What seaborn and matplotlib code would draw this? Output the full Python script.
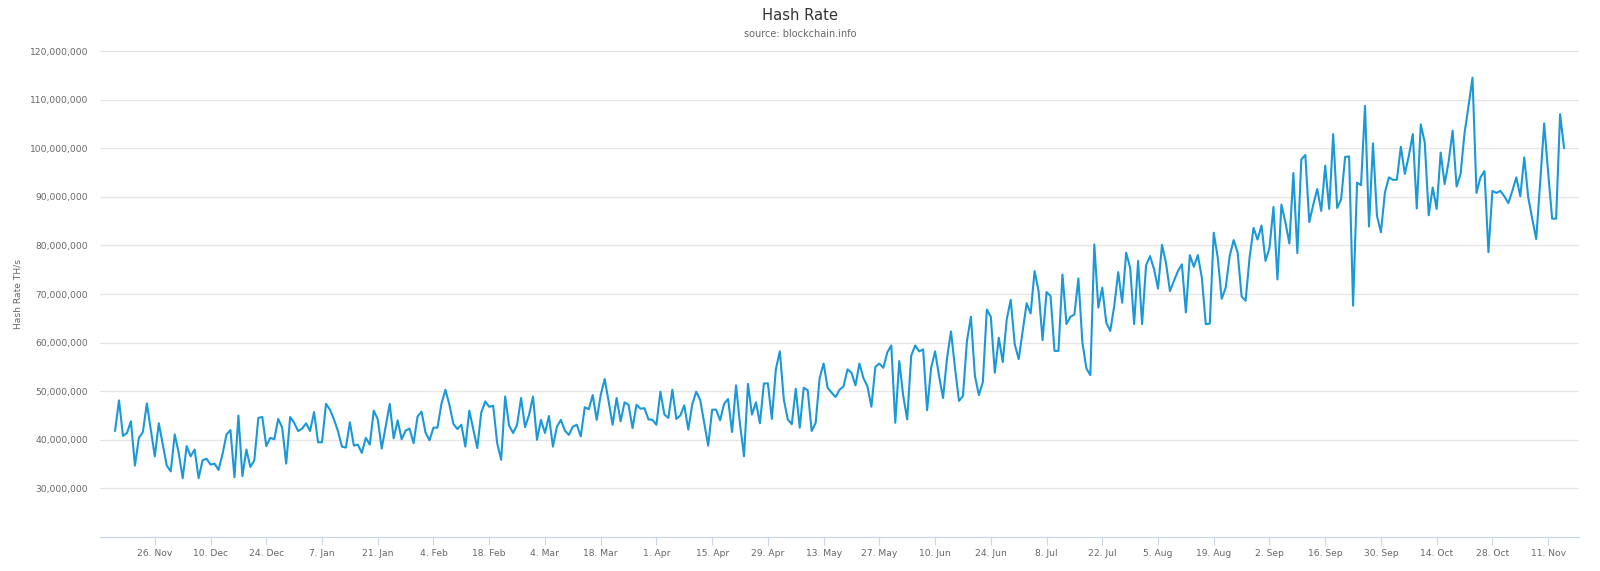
import matplotlib
matplotlib.use("Agg")
import matplotlib.pyplot as plt
import matplotlib.dates as mdates
import matplotlib.ticker as mticker
import seaborn as sns
import pandas as pd
import numpy as np

# ---- data (hash rate in millions of TH/s, one value per day) ----
start_date = "2017-11-16"
hash_rate_millions = [
    41.8, 48.1, 40.8, 41.4, 43.8, 34.7, 40.4, 41.6, 47.5, 42.1,
    36.6, 43.4, 39.0, 34.7, 33.5, 41.1, 37.3, 32.1, 38.7, 36.6,
    38.0, 32.1, 35.8, 36.1, 34.9, 35.1, 33.8, 37.0, 41.1, 42.0,
    32.3, 45.0, 32.5, 38.0, 34.4, 35.8, 44.5, 44.7, 38.7, 40.4,
    40.1, 44.3, 42.5, 35.1, 44.7, 43.5, 41.8, 42.3, 43.4, 41.8,
    45.7, 39.5, 39.5, 47.4, 46.2, 44.2, 41.8, 38.6, 38.4, 43.6,
    38.8, 39.0, 37.3, 40.4, 39.0, 46.0, 44.2, 38.2, 42.8, 47.4,
    40.3, 44.0, 40.1, 41.9, 42.3, 39.3, 44.8, 45.8, 41.5, 39.9,
    42.5, 42.5, 47.4, 50.3, 47.2, 43.3, 42.2, 43.1, 38.6, 46.0,
    42.1, 38.3, 45.6, 47.9, 46.8, 47.0, 39.3, 35.9, 48.9, 42.9,
    41.4, 43.1, 48.6, 42.6, 45.1, 48.9, 40.0, 44.1, 41.4, 44.9,
    38.6, 42.7, 44.1, 41.9, 41.0, 42.7, 43.1, 40.7, 46.7, 46.3,
    49.2, 44.1, 49.2, 52.5, 47.9, 43.1, 48.6, 43.8, 47.7, 47.2,
    42.4, 47.2, 46.4, 46.5, 44.2, 44.1, 43.1, 49.9, 45.2, 44.5,
    50.3, 44.3, 45.0, 47.1, 42.1, 47.3, 49.9, 48.2, 43.5, 38.8,
    46.2, 46.2, 44.0, 47.4, 48.4, 41.6, 51.2, 43.2, 36.6, 51.5,
    45.2, 47.7, 43.4, 51.6, 51.6, 44.3, 54.5, 58.2, 48.3, 44.2,
    43.2, 50.5, 42.5, 50.7, 50.2, 41.8, 43.5, 52.7, 55.7, 50.7,
    49.7, 48.8, 50.3, 51.0, 54.5, 53.8, 51.2, 55.7, 52.7, 51.0,
    46.8, 55.0, 55.7, 54.8, 58.0, 59.4, 43.5, 56.2, 49.0, 44.2,
    57.3, 59.4, 58.2, 58.6, 46.1, 54.8, 58.2, 53.1, 48.6, 56.8,
    62.3, 54.8, 48.0, 49.0, 60.3, 65.3, 53.2, 49.2, 51.9, 66.8,
    65.3, 53.8, 61.0, 56.0, 64.8, 68.8, 59.7, 56.6, 62.4, 68.1,
    66.0, 74.7, 70.6, 60.5, 70.4, 69.6, 58.3, 58.3, 74.0, 63.8,
    65.3, 65.8, 73.2, 60.1, 54.7, 53.3, 80.2, 67.2, 71.3, 64.1,
    62.4, 67.5, 74.5, 68.2, 78.5, 75.4, 63.8, 76.8, 63.8, 75.9,
    77.8, 75.1, 71.1, 80.1, 76.4, 70.6, 72.7, 74.7, 76.1, 66.2,
    78.0, 75.6, 78.0, 73.4, 63.8, 63.9, 82.6, 77.5, 69.0, 71.3,
    77.8, 81.1, 78.5, 69.5, 68.6, 77.5, 83.6, 81.2, 84.1, 76.8,
    79.5, 87.9, 73.0, 88.4, 84.7, 80.4, 94.9, 78.4, 97.7, 98.6,
    84.8, 88.4, 91.6, 87.1, 96.4, 87.5, 102.9, 87.7, 89.5, 98.2,
    98.3, 67.6, 92.9, 92.4, 108.7, 83.9, 101.0, 86.1, 82.7, 90.9,
    94.0, 93.5, 93.5, 100.3, 94.7, 98.4, 102.9, 87.6, 104.9, 101.2,
    86.2, 91.9, 87.5, 99.1, 92.6, 97.2, 103.6, 92.1, 94.7, 103.1,
    108.7, 114.5, 90.8, 94.0, 95.3, 78.6, 91.2, 90.8, 91.2, 90.1,
    88.7, 91.2, 94.0, 90.1, 98.1, 89.9, 85.5, 81.3, 93.0, 105.1,
    95.0, 85.5, 85.5, 107.0, 100.0,
]
y_tick_values = [30e6, 40e6, 50e6, 60e6, 70e6, 80e6, 90e6, 100e6, 110e6, 120e6]
x_tick_dates = pd.date_range("2017-11-26", "2018-11-11", freq="14D")
title_text = "Hash Rate"
subtitle_text = "source: blockchain.info"
y_label_text = "Hash Rate TH/s"

dates = pd.date_range(start_date, periods=len(hash_rate_millions), freq="D")
df = pd.DataFrame({"date": dates,
                   "hash_rate": np.array(hash_rate_millions) * 1e6})

# ---- style ----
sns.set_theme(style="white")
plt.rcParams["font.family"] = ["DejaVu Sans"]

W, H = 1600, 571
fig = plt.figure(figsize=(W / 100, H / 100), dpi=100)
ax = fig.add_axes([100 / W, 1 - 537 / H, (1579 - 100) / W, (537 - 51) / H])

sns.lineplot(data=df, x="date", y="hash_rate", ax=ax,
             color="#1b98d6", linewidth=1.5)

# axes limits
x0 = pd.Timestamp(start_date) - pd.Timedelta(days=3.77)
x1 = pd.Timestamp(start_date) + pd.Timedelta(days=367.75)
ax.set_xlim(x0, x1)
ax.set_ylim(20e6, 120e6)

# y axis
ax.set_yticks(y_tick_values)
ax.yaxis.set_major_formatter(mticker.FuncFormatter(lambda v, p: f"{int(round(v)):,}"))
ax.grid(axis="y", color="#e6e6e6", linewidth=0.9)
ax.grid(axis="x", visible=False)
ax.tick_params(axis="y", length=0, pad=8.5, labelsize=6.6, labelcolor="#666666")

# x axis
ax.set_xticks(x_tick_dates)
ax.set_xticklabels([f"{d.day}. {d.strftime('%b')}" for d in x_tick_dates])
ax.tick_params(axis="x", direction="out", length=5.8, width=0.8,
               color="#ccd6eb", pad=2.5, labelsize=6.6, labelcolor="#666666",
               bottom=True)

for side in ["top", "right", "left"]:
    ax.spines[side].set_visible(False)
ax.spines["bottom"].set_color("#ccd6eb")
ax.spines["bottom"].set_linewidth(0.9)

ax.set_xlabel("")
ax.set_ylabel("")

# titles and y label
fig.text(0.5, 1 - 15 / H, title_text, ha="center", va="center",
         fontsize=10.6, color="#333333")
fig.text(0.5, 1 - 34 / H, subtitle_text, ha="center", va="center",
         fontsize=7.0, color="#666666")
fig.text(18 / W, 1 - 294 / H, y_label_text, ha="center", va="center",
         rotation=90, fontsize=6.6, color="#666666")

fig.savefig("out.png", dpi=100)
